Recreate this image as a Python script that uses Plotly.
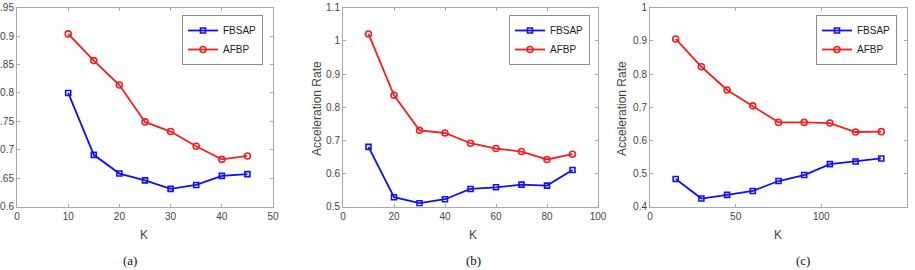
import plotly.graph_objects as go

W, H = 915, 270

# ---- data ----
k_a = [10, 15, 20, 25, 30, 35, 40, 45]
fbsap_a = [0.800, 0.691, 0.658, 0.646, 0.631, 0.638, 0.654, 0.657]
afbp_a = [0.904, 0.857, 0.814, 0.749, 0.732, 0.706, 0.683, 0.689]

k_b = [10, 20, 30, 40, 50, 60, 70, 80, 90]
fbsap_b = [0.680, 0.528, 0.510, 0.522, 0.553, 0.558, 0.566, 0.563, 0.610]
afbp_b = [1.021, 0.836, 0.730, 0.722, 0.691, 0.675, 0.666, 0.642, 0.658]

k_c = [15, 30, 45, 60, 75, 90, 105, 120, 135]
fbsap_c = [0.483, 0.424, 0.435, 0.447, 0.477, 0.495, 0.528, 0.536, 0.545]
afbp_c = [0.906, 0.822, 0.752, 0.704, 0.654, 0.654, 0.652, 0.625, 0.626]

panel_labels = ["(a)", "(b)", "(c)"]
x_title = "K"
y_title = "Acceleration Rate"
series_names = ["FBSAP", "AFBP"]

BLUE = "#1010f0"
RED = "#f02020"
AX = "#a8a8a8"
TXT = "#444444"
FONT = "Liberation Sans, Arial, sans-serif"

def px(x):
    return x / W

def py(y):
    return 1 - y / H

fig = go.Figure()

panels = [
    (k_a, fbsap_a, afbp_a, "x", "y", "legend"),
    (k_b, fbsap_b, afbp_b, "x2", "y2", "legend2"),
    (k_c, fbsap_c, afbp_c, "x3", "y3", "legend3"),
]
for ks, fb, af, xa, ya, lg in panels:
    fig.add_trace(go.Scatter(
        x=ks, y=fb, name=series_names[0], mode="lines+markers",
        line=dict(color=BLUE, width=1.8),
        marker=dict(symbol="square-open", size=5, color=BLUE, line=dict(width=1.6, color=BLUE)),
        xaxis=xa, yaxis=ya, legend=lg))
    fig.add_trace(go.Scatter(
        x=ks, y=af, name=series_names[1], mode="lines+markers",
        line=dict(color=RED, width=1.8),
        marker=dict(symbol="circle-open", size=6, color=RED, line=dict(width=1.6, color=RED)),
        xaxis=xa, yaxis=ya, legend=lg))

ydom = [py(206.5), py(7.8)]
xdoms = [[px(17), px(273)], [px(343), px(598)], [px(650), px(907)]]
xranges = [[0, 50], [0, 100], [0, 150]]
xdticks = [10, 20, 50]
yranges = [[0.6, 0.95], [0.5, 1.1], [0.4, 1.0]]
ydticks = [0.05, 0.1, 0.1]

common = dict(
    showline=True, linecolor=AX, linewidth=1, mirror="ticks",
    ticks="inside", ticklen=3, tickcolor=AX, tickwidth=1,
    showgrid=False, zeroline=False,
    tickfont=dict(family=FONT, size=10, color=TXT),
    automargin=False,
)

layout = dict(
    width=W, height=H,
    margin=dict(l=0, r=0, t=0, b=0),
    paper_bgcolor="white", plot_bgcolor="white",
    font=dict(family=FONT, color=TXT),
)
for i in range(3):
    sx = "" if i == 0 else str(i + 1)
    layout["xaxis" + sx] = dict(domain=xdoms[i], range=xranges[i], dtick=xdticks[i], tick0=0,
                                anchor="y" + sx, **common)
    layout["yaxis" + sx] = dict(domain=ydom, range=yranges[i], dtick=ydticks[i], tick0=0,
                                anchor="x" + sx, **common)

leg_right = [263, 590, 897]
for i in range(3):
    key = "legend" if i == 0 else "legend" + str(i + 1)
    layout[key] = dict(
        x=px(leg_right[i]), y=py(15), xanchor="right", yanchor="top",
        bgcolor="white", bordercolor="#8c8c8c", borderwidth=1,
        font=dict(family=FONT, size=10, color="#222222"),
        itemwidth=30, tracegroupgap=0,
    )
fig.update_layout(**layout)

ann = []
for xc in [144, 473, 778]:
    ann.append(dict(text=x_title, x=px(xc), y=py(235), xref="paper", yref="paper",
                    showarrow=False, xanchor="center", yanchor="middle",
                    font=dict(family=FONT, size=12, color=TXT)))
for xc in [317, 622]:
    ann.append(dict(text=y_title, x=px(xc), y=py(109), xref="paper", yref="paper",
                    showarrow=False, xanchor="center", yanchor="middle", textangle=-90,
                    font=dict(family=FONT, size=12, color=TXT)))
for lab, xc in zip(panel_labels, [130, 473, 803]):
    ann.append(dict(text=lab, x=px(xc), y=py(260), xref="paper", yref="paper",
                    showarrow=False, xanchor="center", yanchor="middle",
                    font=dict(family="Liberation Serif, Times New Roman, serif", size=13, color="#111111")))
fig.update_layout(annotations=ann)

fig.write_html("out.html")
